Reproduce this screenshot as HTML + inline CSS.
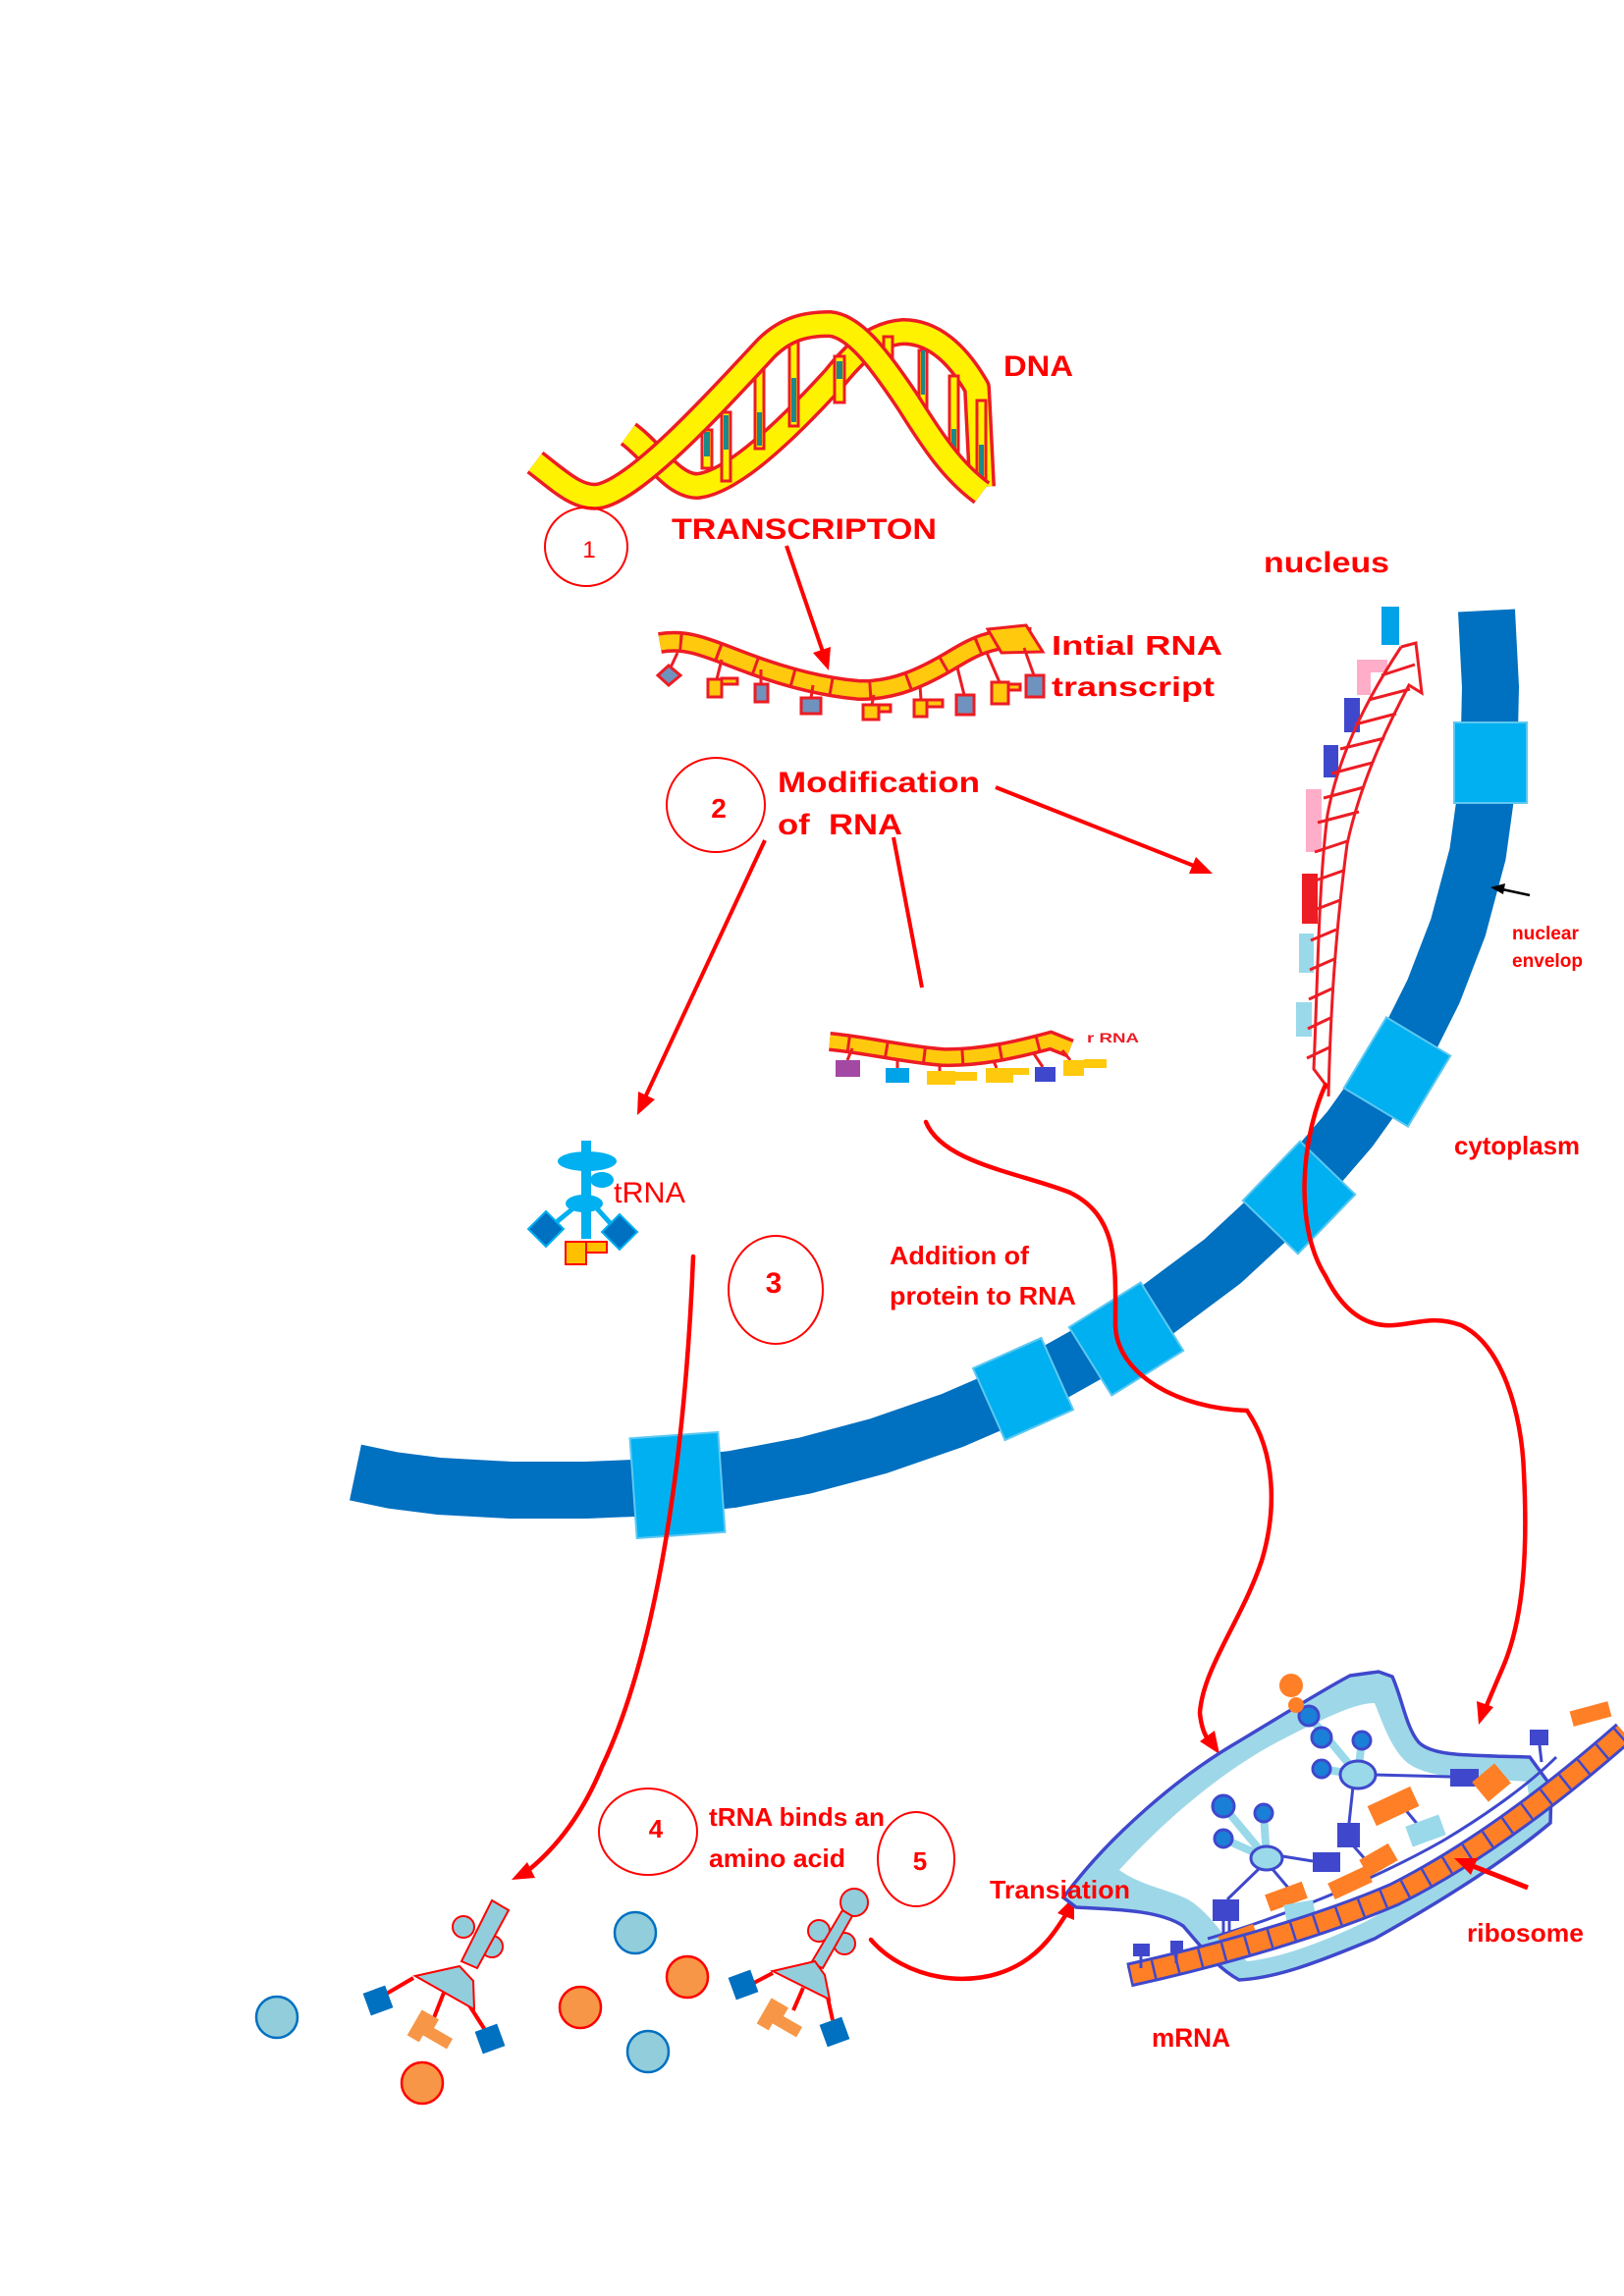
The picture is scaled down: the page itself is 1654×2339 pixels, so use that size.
<!DOCTYPE html>
<html>
<head>
<meta charset="utf-8">
<style>
html,body{margin:0;padding:0;background:#fff;}
svg{display:block;}
text{font-family:"Liberation Sans",sans-serif;fill:#ff0000;}
.b{font-weight:bold;}
</style>
</head>
<body>
<svg width="1654" height="2339" viewBox="0 0 1654 2339" xmlns="http://www.w3.org/2000/svg">
<rect width="1654" height="2339" fill="#fff"/>

<!-- ================= DNA ================= -->
<g stroke-linecap="butt" stroke-linejoin="round" fill="none">
  <path d="M 640 442 C 665 460, 685 495, 710 495 C 745 492, 800 440, 850 385 C 870 360, 890 340, 920 338 C 950 338, 975 360, 995 395 L 1000 496" stroke="#ED1C24" stroke-width="28"/>
  <path d="M 640 442 C 665 460, 685 495, 710 495 C 745 492, 800 440, 850 385 C 870 360, 890 340, 920 338 C 950 338, 975 360, 995 395 L 1000 496" stroke="#FFF200" stroke-width="21"/>
</g>
<g stroke="#ED1C24" stroke-width="3">
  <rect x="715" y="438" width="10" height="39" fill="#FFF200"/>
  <rect x="735" y="420" width="9" height="70" fill="#FFF200"/>
  <rect x="769" y="373" width="9" height="84" fill="#FFF200"/>
  <rect x="804" y="335" width="9" height="99" fill="#FFF200"/>
  <rect x="850" y="363" width="10" height="47" fill="#FFF200"/>
  <rect x="900" y="343" width="9" height="43" fill="#FFF200"/>
  <rect x="936" y="357" width="8" height="78" fill="#FFF200"/>
  <rect x="967" y="383" width="9" height="92" fill="#FFF200"/>
  <rect x="995" y="408" width="9" height="84" fill="#FFF200"/>
</g>
<g fill="#1A8A8A">
  <rect x="717" y="440" width="6" height="25"/>
  <rect x="737" y="423" width="5" height="35"/>
  <rect x="771" y="420" width="5" height="34"/>
  <rect x="806" y="385" width="5" height="45"/>
  <rect x="852" y="368" width="6" height="18"/>
  <rect x="902" y="366" width="5" height="18"/>
  <rect x="938" y="357" width="4" height="45"/>
  <rect x="969" y="437" width="5" height="36"/>
  <rect x="997" y="453" width="5" height="36"/>
</g>
<g stroke-linecap="butt" stroke-linejoin="round" fill="none">
  <path d="M 545 471 C 570 490, 590 510, 612 505 C 650 495, 720 420, 780 355 C 800 335, 820 330, 845 330 C 870 332, 895 365, 925 410 C 950 450, 970 480, 1000 502" stroke="#ED1C24" stroke-width="28"/>
  <path d="M 545 471 C 570 490, 590 510, 612 505 C 650 495, 720 420, 780 355 C 800 335, 820 330, 845 330 C 870 332, 895 365, 925 410 C 950 450, 970 480, 1000 502" stroke="#FFF200" stroke-width="21"/>
</g>
<text class="b" x="1022" y="383" font-size="30" textLength="71" lengthAdjust="spacingAndGlyphs">DNA</text>

<!-- step 1 -->
<ellipse cx="597" cy="557" rx="42" ry="40" fill="none" stroke="#ff0000" stroke-width="2"/>
<text x="600" y="568" font-size="24" text-anchor="middle">1</text>
<text class="b" x="684" y="549" font-size="30" textLength="270" lengthAdjust="spacingAndGlyphs">TRANSCRIPTON</text>
<line x1="801" y1="556" x2="838" y2="664" stroke="#ff0000" stroke-width="4"/>
<polygon points="844,683 846,659 828,665" fill="#ff0000"/>

<!-- ================= Initial RNA ================= -->
<g fill="none">
  <path d="M 672 655 C 700 650, 720 660, 760 675 C 800 690, 840 700, 875 703 C 910 704, 940 690, 970 672 C 990 660, 1010 648, 1050 650" stroke="#ED1C24" stroke-width="22"/>
  <path d="M 672 655 C 700 650, 720 660, 760 675 C 800 690, 840 700, 875 703 C 910 704, 940 690, 970 672 C 990 660, 1010 648, 1050 650" stroke="#FFC90E" stroke-width="15"/>
  <path d="M 672 655 C 700 650, 720 660, 760 675 C 800 690, 840 700, 875 703 C 910 704, 940 690, 970 672 C 990 660, 1010 648, 1050 650" stroke="#ED1C24" stroke-width="16" stroke-dasharray="3 37" stroke-dashoffset="-20"/>
</g>
<polygon points="1006,641 1045,637 1062,664 1020,665" fill="#FFC90E" stroke="#ED1C24" stroke-width="3"/>
<g stroke="#ED1C24" stroke-width="3">
  <line x1="690" y1="665" x2="683" y2="680"/>
  <line x1="735" y1="672" x2="730" y2="692"/>
  <line x1="775" y1="682" x2="775" y2="697"/>
  <line x1="828" y1="698" x2="826" y2="711"/>
  <line x1="890" y1="708" x2="888" y2="718"/>
  <line x1="937" y1="698" x2="938" y2="713"/>
  <line x1="975" y1="680" x2="982" y2="708"/>
  <line x1="1005" y1="665" x2="1018" y2="695"/>
  <line x1="1043" y1="660" x2="1053" y2="688"/>
  <polygon points="670,688 681,678 693,688 681,698" fill="#7092BE"/>
  <rect x="721" y="692" width="14" height="18" fill="#FFC90E"/>
  <rect x="735" y="691" width="16" height="6" fill="#FFC90E"/>
  <rect x="769" y="697" width="13" height="18" fill="#7092BE"/>
  <rect x="816" y="711" width="20" height="16" fill="#7092BE"/>
  <rect x="879" y="718" width="16" height="15" fill="#FFC90E"/>
  <rect x="895" y="718" width="12" height="7" fill="#FFC90E"/>
  <rect x="931" y="713" width="13" height="17" fill="#FFC90E"/>
  <rect x="944" y="713" width="16" height="7" fill="#FFC90E"/>
  <rect x="974" y="708" width="18" height="20" fill="#7092BE"/>
  <rect x="1010" y="695" width="17" height="22" fill="#FFC90E"/>
  <rect x="1027" y="697" width="12" height="6" fill="#FFC90E"/>
  <rect x="1045" y="688" width="18" height="22" fill="#7092BE"/>
</g>
<text class="b" x="1071" y="667" font-size="28" textLength="174" lengthAdjust="spacingAndGlyphs">Intial RNA</text>
<text class="b" x="1071" y="709" font-size="28" textLength="166" lengthAdjust="spacingAndGlyphs">transcript</text>

<!-- step 2 -->
<ellipse cx="729" cy="820" rx="50" ry="48" fill="none" stroke="#ff0000" stroke-width="2"/>
<text class="b" x="732" y="833" font-size="28" text-anchor="middle">2</text>
<text class="b" x="792" y="807" font-size="30" textLength="206" lengthAdjust="spacingAndGlyphs">Modification</text>
<text class="b" x="792" y="850" font-size="30" textLength="127" lengthAdjust="spacingAndGlyphs" xml:space="preserve">of  RNA</text>
<line x1="1014" y1="802" x2="1216" y2="882" stroke="#ff0000" stroke-width="4"/>
<polygon points="1235,890 1211,890 1218,873" fill="#ff0000"/>
<line x1="779" y1="856" x2="657" y2="1118" stroke="#ff0000" stroke-width="4"/>
<polygon points="649,1136 667,1120 650,1112" fill="#ff0000"/>
<line x1="910" y1="853" x2="939" y2="1006" stroke="#ff0000" stroke-width="4"/>

<!-- ================= rRNA ================= -->
<g fill="none">
  <path d="M 845 1061 C 880 1064, 920 1074, 960 1077 C 1000 1078, 1040 1068, 1070 1060 L 1090 1068" stroke="#ED1C24" stroke-width="20"/>
  <path d="M 845 1061 C 880 1064, 920 1074, 960 1077 C 1000 1078, 1040 1068, 1070 1060 L 1090 1068" stroke="#FFC90E" stroke-width="13"/>
  <path d="M 845 1061 C 880 1064, 920 1074, 960 1077 C 1000 1078, 1040 1068, 1070 1060 L 1090 1068" stroke="#ED1C24" stroke-width="14" stroke-dasharray="3 36" stroke-dashoffset="-18"/>
</g>
<g stroke="#ED1C24" stroke-width="3">
  <line x1="868" y1="1068" x2="863" y2="1080"/>
  <line x1="914" y1="1078" x2="914" y2="1088"/>
  <line x1="957" y1="1084" x2="957" y2="1091"/>
  <line x1="1012" y1="1081" x2="1015" y2="1088"/>
  <line x1="1052" y1="1072" x2="1062" y2="1087"/>
  <line x1="1082" y1="1070" x2="1090" y2="1080"/>
</g>
<rect x="851" y="1080" width="25" height="17" fill="#A349A4"/>
<rect x="902" y="1088" width="24" height="15" fill="#00A2E8"/>
<rect x="944" y="1091" width="29" height="14" fill="#FFC90E"/>
<rect x="973" y="1092" width="22" height="9" fill="#FFC90E"/>
<rect x="1004" y="1088" width="28" height="15" fill="#FFC90E"/>
<rect x="1032" y="1088" width="16" height="7" fill="#FFC90E"/>
<rect x="1054" y="1087" width="21" height="15" fill="#3F48CC"/>
<rect x="1083" y="1080" width="21" height="16" fill="#FFC90E"/>
<rect x="1104" y="1079" width="23" height="9" fill="#FFC90E"/>
<text class="b" x="1107" y="1062" font-size="14" textLength="53" lengthAdjust="spacingAndGlyphs" style="fill:#ED1C24">r RNA</text>

<!-- ================= tRNA (top) ================= -->
<g fill="#00B0F0">
  <rect x="592" y="1162" width="10" height="100"/>
  <ellipse cx="598" cy="1183" rx="30" ry="10"/>
  <ellipse cx="613" cy="1202" rx="12" ry="8"/>
  <ellipse cx="595" cy="1226" rx="19" ry="9"/>
</g>
<g stroke="#00B0F0" stroke-width="5">
  <line x1="585" y1="1230" x2="563" y2="1248"/>
  <line x1="607" y1="1230" x2="625" y2="1250"/>
</g>
<polygon points="556,1234 574,1252 556,1270 538,1252" fill="#0070C0" stroke="#00B0F0" stroke-width="2"/>
<polygon points="631,1237 649,1255 631,1273 613,1255" fill="#0070C0" stroke="#00B0F0" stroke-width="2"/>
<rect x="576" y="1265" width="21" height="23" fill="#FFC000" stroke="#ff0000" stroke-width="2"/>
<rect x="597" y="1265" width="21" height="11" fill="#FFC000" stroke="#ff0000" stroke-width="2"/>
<text x="625" y="1225" font-size="30" textLength="73" lengthAdjust="spacingAndGlyphs">tRNA</text>

<!-- step 3 -->
<ellipse cx="790" cy="1314" rx="48" ry="55" fill="none" stroke="#ff0000" stroke-width="2"/>
<text class="b" x="788" y="1317" font-size="30" text-anchor="middle">3</text>
<text class="b" x="906" y="1288" font-size="26" textLength="142" lengthAdjust="spacingAndGlyphs">Addition of</text>
<text class="b" x="906" y="1329" font-size="26" textLength="190" lengthAdjust="spacingAndGlyphs">protein to RNA</text>

<!-- ================= nucleus labels & mRNA ladder ================= -->
<text class="b" x="1287" y="583" font-size="30" textLength="128" lengthAdjust="spacingAndGlyphs">nucleus</text>
<rect x="1407" y="618" width="18" height="39" fill="#00A2E8"/>
<path d="M 1382 672 L 1413 672 L 1413 685 L 1396 685 L 1396 708 L 1382 708 Z" fill="#FFAEC9"/>
<rect x="1369" y="711" width="16" height="35" fill="#3F48CC"/>
<rect x="1348" y="759" width="15" height="33" fill="#3F48CC"/>
<rect x="1330" y="804" width="16" height="64" fill="#FFAEC9"/>
<rect x="1326" y="890" width="16" height="51" fill="#ED1C24"/>
<rect x="1323" y="951" width="15" height="40" fill="#99D9EA"/>
<rect x="1320" y="1021" width="16" height="35" fill="#99D9EA"/>
<g fill="none" stroke="#ED1C24" stroke-width="3">
  <path d="M 1427 659 C 1400 700, 1365 760, 1352 830 C 1343 900, 1342 1000, 1338 1089 L 1353 1109"/>
  <path d="M 1427 659 L 1442 655 L 1448 706 L 1435 698 C 1410 745, 1385 800, 1372 860 C 1360 950, 1355 1030, 1353 1117"/>
  <line x1="1407" y1="688" x2="1441" y2="677"/>
  <line x1="1394" y1="713" x2="1436" y2="702"/>
  <line x1="1380" y1="738" x2="1422" y2="727"/>
  <line x1="1365" y1="763" x2="1410" y2="752"/>
  <line x1="1356" y1="788" x2="1398" y2="777"/>
  <line x1="1348" y1="813" x2="1389" y2="802"/>
  <line x1="1342" y1="838" x2="1384" y2="827"/>
  <line x1="1339" y1="868" x2="1372" y2="857"/>
  <line x1="1337" y1="898" x2="1368" y2="887"/>
  <line x1="1336" y1="928" x2="1365" y2="917"/>
  <line x1="1335" y1="958" x2="1361" y2="947"/>
  <line x1="1334" y1="988" x2="1359" y2="977"/>
  <line x1="1333" y1="1018" x2="1357" y2="1007"/>
  <line x1="1332" y1="1048" x2="1355" y2="1037"/>
  <line x1="1331" y1="1078" x2="1354" y2="1067"/>
</g>

<!-- ================= nuclear envelope ================= -->
<path d="M 1514 622 L 1518 700 L 1516 790 L 1505 870 L 1485 945 L 1460 1010 L 1425 1080 L 1375 1150 L 1312 1223 L 1245 1285 L 1178 1335 L 1110 1378 L 1044 1415 L 970 1447 L 895 1473 L 820 1493 L 746 1507 L 670 1515 L 597 1518 L 520 1518 L 447 1514 L 400 1508 L 362 1500" fill="none" stroke="#0070C0" stroke-width="58" stroke-linejoin="round"/>
<g fill="#00B0F0" stroke="#5CC8F2" stroke-width="2">
  <rect x="-41" y="-37" width="82" height="74" transform="translate(1518,777) rotate(90)"/>
  <rect x="-42" y="-38" width="84" height="76" transform="translate(1423,1092) rotate(121)"/>
  <rect x="-42" y="-39" width="84" height="78" transform="translate(1323,1220) rotate(134)"/>
  <rect x="-43" y="-41" width="86" height="82" transform="translate(1147,1364) rotate(148)"/>
  <rect x="-38" y="-40" width="76" height="80" transform="translate(1042,1415) rotate(156)"/>
  <rect x="-45" y="-51" width="90" height="102" transform="translate(690,1513) rotate(176)"/>
</g>
<line x1="1558" y1="912" x2="1530" y2="906" stroke="#000" stroke-width="2.5"/>
<polygon points="1518,904 1533,900 1531,911" fill="#000"/>
<text class="b" x="1540" y="957" font-size="19" textLength="68" lengthAdjust="spacingAndGlyphs">nuclear</text>
<text class="b" x="1540" y="985" font-size="19" textLength="72" lengthAdjust="spacingAndGlyphs">envelop</text>
<text class="b" x="1481" y="1176" font-size="26" textLength="128" lengthAdjust="spacingAndGlyphs">cytoplasm</text>

<!-- ================= red connector curves ================= -->
<g fill="none" stroke="#ff0000" stroke-width="4.5" stroke-linecap="round">
  <path d="M 706 1280 C 698 1480, 670 1680, 613 1800 Q 585 1868 536 1907"/>
  <path d="M 943 1143 C 960 1185, 1040 1195, 1090 1215 C 1140 1240, 1136 1290, 1136 1350 C 1137 1400, 1200 1435, 1270 1437 C 1300 1480, 1300 1540, 1285 1590 C 1265 1650, 1225 1700, 1222 1745 Q 1224 1765 1232 1774"/>
  <path d="M 1350 1105 C 1325 1160, 1318 1250, 1350 1300 C 1370 1340, 1395 1352, 1420 1350 C 1445 1348, 1460 1340, 1488 1350 C 1530 1370, 1550 1440, 1552 1500 C 1556 1580, 1552 1650, 1530 1700 Q 1518 1728 1513 1740"/>
  <path d="M 887 1976 C 920 2015, 990 2030, 1040 2000 C 1065 1985, 1078 1962, 1086 1950"/>
</g>
<polygon points="521,1915 545,1913 537,1897" fill="#ff0000"/>
<polygon points="1242,1787 1237,1763 1222,1774" fill="#ff0000"/>
<polygon points="1506,1757 1521,1739 1504,1733" fill="#ff0000"/>
<polygon points="1094,1932 1094,1956 1077,1949" fill="#ff0000"/>

<!-- ================= step 4 / 5 ================= -->
<ellipse cx="660" cy="1866" rx="50" ry="44" fill="none" stroke="#ff0000" stroke-width="2"/>
<text class="b" x="668" y="1872" font-size="26" text-anchor="middle">4</text>
<text class="b" x="722" y="1860" font-size="26" textLength="179" lengthAdjust="spacingAndGlyphs">tRNA binds an</text>
<text class="b" x="722" y="1902" font-size="26" textLength="139" lengthAdjust="spacingAndGlyphs">amino acid</text>
<ellipse cx="933" cy="1894" rx="39" ry="48" fill="none" stroke="#ff0000" stroke-width="2"/>
<text class="b" x="937" y="1905" font-size="26" text-anchor="middle">5</text>

<!-- amino acid circles -->
<g stroke-width="2.5">
  <circle cx="282" cy="2055" r="21" fill="#92CDDC" stroke="#0070C0"/>
  <circle cx="430" cy="2122" r="21" fill="#F79646" stroke="#ff0000"/>
  <circle cx="647" cy="1969" r="21" fill="#92CDDC" stroke="#0070C0"/>
  <circle cx="591" cy="2045" r="21" fill="#F79646" stroke="#ff0000"/>
  <circle cx="700" cy="2014" r="21" fill="#F79646" stroke="#ff0000"/>
  <circle cx="660" cy="2090" r="21" fill="#92CDDC" stroke="#0070C0"/>
</g>

<!-- bottom tRNA left -->
<g stroke="#ff0000" stroke-width="4">
  <line x1="421" y1="2015" x2="392" y2="2032"/>
  <line x1="452" y1="2030" x2="441" y2="2058"/>
  <line x1="478" y1="2043" x2="494" y2="2068"/>
</g>
<g fill="#92CDDC" stroke="#ff0000" stroke-width="2">
  <circle cx="472" cy="1963" r="11"/>
  <circle cx="501" cy="1983" r="11"/>
  <polygon points="501,1936 518,1946 486,2005 470,1998"/>
  <polygon points="423,2013 468,2003 482,2018 483,2047"/>
</g>
<rect x="-12" y="-12" width="24" height="24" fill="#0070C0" transform="translate(385,2038) rotate(-20)"/>
<rect x="-12" y="-12" width="24" height="24" fill="#0070C0" transform="translate(499,2077) rotate(-20)"/>
<path d="M -20 -10 L 0 -10 L 0 0 L 22 0 L 22 12 L -6 12 L -6 20 L -20 20 Z" fill="#F79646" transform="translate(442,2066) rotate(30)"/>

<!-- bottom tRNA right -->
<g stroke="#ff0000" stroke-width="4">
  <line x1="787" y1="2010" x2="764" y2="2022"/>
  <line x1="818" y1="2025" x2="808" y2="2048"/>
  <line x1="843" y1="2035" x2="848" y2="2058"/>
</g>
<g fill="#92CDDC" stroke="#ff0000" stroke-width="2">
  <circle cx="870" cy="1938" r="14"/>
  <circle cx="834" cy="1967" r="11"/>
  <circle cx="860" cy="1980" r="11"/>
  <polygon points="858,1946 868,1952 838,2005 826,2000"/>
  <polygon points="787,2008 830,1998 840,2012 845,2037"/>
</g>
<rect x="-12" y="-12" width="24" height="24" fill="#0070C0" transform="translate(757,2022) rotate(-20)"/>
<rect x="-12" y="-12" width="24" height="24" fill="#0070C0" transform="translate(850,2070) rotate(-20)"/>
<path d="M -20 -10 L 0 -10 L 0 0 L 22 0 L 22 12 L -6 12 L -6 20 L -20 20 Z" fill="#F79646" transform="translate(798,2054) rotate(30)"/>

<!-- ================= ribosome ================= -->
<path d="M 1083 1933 C 1130 1870, 1200 1810, 1260 1775 C 1310 1745, 1350 1720, 1375 1707 L 1404 1703 L 1418 1708 C 1428 1730, 1432 1760, 1445 1775 C 1460 1790, 1500 1788, 1558 1790 L 1580 1820 L 1579 1857 C 1540 1890, 1480 1930, 1400 1975 C 1340 2000, 1300 2015, 1262 2017 C 1240 2005, 1225 1985, 1205 1962 C 1180 1945, 1130 1945, 1096 1943 Z" fill="#9ED8E8" stroke="#3F48CC" stroke-width="3.5"/>
<path d="M 1140 1905 C 1190 1850, 1250 1800, 1310 1770 C 1350 1750, 1380 1735, 1400 1735 C 1410 1760, 1420 1790, 1440 1800 C 1470 1815, 1520 1812, 1555 1815 L 1560 1850 C 1520 1880, 1460 1920, 1390 1958 C 1340 1982, 1300 1995, 1270 1998 C 1250 1980, 1235 1950, 1210 1935 C 1190 1925, 1160 1920, 1140 1905 Z" fill="#fff"/>
<path d="M 1230 1975 C 1300 1955, 1400 1915, 1470 1875 C 1520 1845, 1560 1815, 1585 1790" fill="none" stroke="#3F48CC" stroke-width="3"/>

<!-- tRNA inside ribosome -->
<g stroke="#3F48CC" stroke-width="3" fill="none">
  <line x1="1400" y1="1808" x2="1477" y2="1810"/>
  <line x1="1378" y1="1820" x2="1374" y2="1857"/>
  <line x1="1378" y1="1880" x2="1400" y2="1905"/>
  <line x1="1300" y1="1890" x2="1337" y2="1896"/>
  <line x1="1283" y1="1903" x2="1250" y2="1935"/>
  <line x1="1295" y1="1903" x2="1322" y2="1935"/>
  <line x1="1246" y1="1957" x2="1246" y2="1980"/>
  <line x1="1252" y1="1957" x2="1252" y2="1980"/>
  <line x1="1420" y1="1830" x2="1445" y2="1860"/>
  <line x1="1568" y1="1778" x2="1570" y2="1795"/>
</g>
<g stroke="#99D9EA" stroke-width="8">
  <line x1="1333" y1="1748" x2="1383" y2="1808"/>
  <line x1="1387" y1="1773" x2="1383" y2="1808"/>
  <line x1="1346" y1="1802" x2="1383" y2="1808"/>
  <line x1="1246" y1="1840" x2="1290" y2="1893"/>
  <line x1="1287" y1="1847" x2="1290" y2="1893"/>
  <line x1="1246" y1="1873" x2="1290" y2="1893"/>
</g>
<g fill="#99D9EA" stroke="#3F48CC" stroke-width="3">
  <ellipse cx="1383" cy="1808" rx="18" ry="14"/>
  <ellipse cx="1290" cy="1893" rx="16" ry="12"/>
</g>
<g fill="#1A7FD6" stroke="#3F48CC" stroke-width="3">
  <circle cx="1333" cy="1748" r="10"/>
  <circle cx="1346" cy="1770" r="10"/>
  <circle cx="1387" cy="1773" r="9"/>
  <circle cx="1346" cy="1802" r="9"/>
  <circle cx="1246" cy="1840" r="11"/>
  <circle cx="1287" cy="1847" r="9"/>
  <circle cx="1246" cy="1873" r="9"/>
</g>
<circle cx="1315" cy="1717" r="12" fill="#FF7F27"/>
<circle cx="1320" cy="1737" r="8" fill="#FF7F27"/>
<g fill="#3F48CC">
  <rect x="1477" y="1802" width="29" height="18"/>
  <rect x="1362" y="1857" width="23" height="25"/>
  <rect x="1337" y="1887" width="28" height="20"/>
  <rect x="1235" y="1935" width="27" height="22"/>
  <rect x="1558" y="1762" width="19" height="16"/>
</g>
<g fill="#FF7F27">
  <rect x="-24" y="-11" width="48" height="22" transform="translate(1419,1840) rotate(-25)"/>
  <rect x="-17" y="-10" width="34" height="20" transform="translate(1404,1895) rotate(-30)"/>
  <rect x="-21" y="-9" width="42" height="18" transform="translate(1375,1918) rotate(-25)"/>
  <rect x="-20" y="-9" width="40" height="18" transform="translate(1310,1932) rotate(-20)"/>
  <rect x="-19" y="-8" width="38" height="16" transform="translate(1261,1974) rotate(-20)"/>
  <rect x="-15" y="-13" width="30" height="26" transform="translate(1519,1816) rotate(-40)"/>
  <rect x="-20" y="-8" width="40" height="16" transform="translate(1620,1746) rotate(-15)"/>
</g>
<g fill="#99D9EA">
  <rect x="-18" y="-11" width="36" height="22" transform="translate(1452,1865) rotate(-20)"/>
  <rect x="-15" y="-10" width="30" height="20" transform="translate(1324,1948) rotate(-10)"/>
</g>

<!-- mRNA strand -->
<g fill="none">
  <path d="M 1150 2012 C 1250 1990, 1350 1960, 1420 1930 C 1500 1890, 1580 1830, 1654 1765" stroke="#3F48CC" stroke-width="25"/>
  <path d="M 1150 2012 C 1250 1990, 1350 1960, 1420 1930 C 1500 1890, 1580 1830, 1654 1765" stroke="#FF7F27" stroke-width="19"/>
  <path d="M 1150 2012 C 1250 1990, 1350 1960, 1420 1930 C 1500 1890, 1580 1830, 1654 1765" stroke="#3F48CC" stroke-width="19" stroke-dasharray="2.5 22"/>
</g>
<g stroke="#3F48CC" stroke-width="3">
  <line x1="1162" y1="1992" x2="1162" y2="2005"/>
  <line x1="1198" y1="1988" x2="1198" y2="2000"/>
</g>
<rect x="1154" y="1980" width="17" height="13" fill="#3F48CC"/>
<rect x="1192" y="1977" width="13" height="12" fill="#3F48CC"/>

<!-- ribosome labels -->
<line x1="1556" y1="1923" x2="1500" y2="1901" stroke="#ff0000" stroke-width="5"/>
<polygon points="1481,1893 1505,1893 1498,1910" fill="#ff0000"/>
<text class="b" x="1008" y="1934" font-size="26" textLength="143" lengthAdjust="spacingAndGlyphs">Transiation</text>
<text class="b" x="1494" y="1978" font-size="26" textLength="119" lengthAdjust="spacingAndGlyphs">ribosome</text>
<text class="b" x="1173" y="2085" font-size="27" textLength="80" lengthAdjust="spacingAndGlyphs">mRNA</text>
</svg>
</body>
</html>
